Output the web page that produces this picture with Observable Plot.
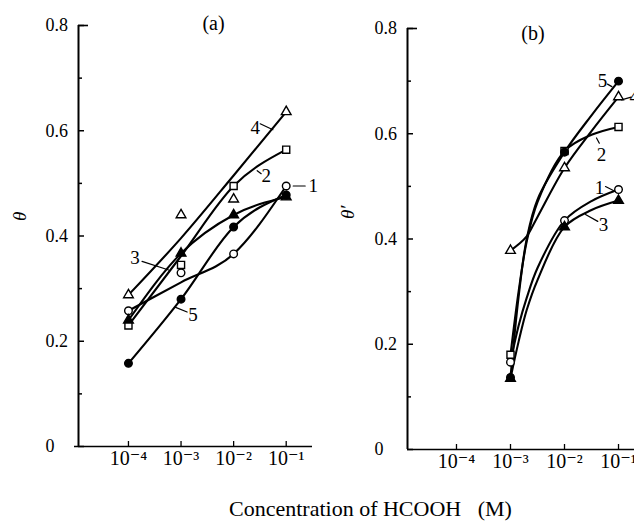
<!DOCTYPE html>
<html><head><meta charset="utf-8">
<script src="https://cdn.jsdelivr.net/npm/d3@7"></script>
<script src="https://cdn.jsdelivr.net/npm/@observablehq/plot@0.6"></script>
<style>
body{margin:0;background:#fff;}
#wrap{position:relative;width:634px;height:522px;overflow:hidden;font-family:"Liberation Serif","DejaVu Serif",serif;color:#000;}
#wrap svg{position:absolute;top:0;}
#xtitle{position:absolute;top:497px;left:229px;font-size:22px;white-space:pre;line-height:24px;}
</style></head><body>
<div id="wrap"><div id="xtitle">Concentration of HCOOH   (M)</div></div>
<script>
// ---------- data ----------
const concA = [1e-4, 1e-3, 1e-2, 1e-1];
// markers, panel (a)
const a1 = [0.258, 0.330, 0.366, 0.495];   // open circle
const a2 = [0.230, 0.345, 0.495, 0.564];   // open square
const a3 = [0.240, 0.367, 0.440, 0.474];   // filled triangle
const a4 = [0.288, 0.440, 0.470, 0.636];   // open triangle
const a5 = [0.158, 0.280, 0.417, 0.478];   // filled circle
// drawn curves, panel (a), read at the decades
const a1Line = [0.258, 0.312, 0.366, 0.495];
const a2Line = [0.230, 0.362, 0.495, 0.564];
const a3Line = [0.240, 0.367, 0.440, 0.474];
const a4Line = [0.288, 0.396, 0.515, 0.636];
const a5Line = [0.158, 0.280, 0.417, 0.478];

const concB = [1e-3, 1e-2, 1e-1];
const b1 = [0.166, 0.435, 0.494];
const b2 = [0.180, 0.567, 0.613];
const b3 = [0.135, 0.423, 0.473];
const b4 = [0.378, 0.535, 0.670];
const b5 = [0.137, 0.565, 0.700];
// drawn curves, panel (b)
const concBLine = [1e-3, 10 ** -2.85, 10 ** -2.7, 10 ** -2.5, 1e-2, 10 ** -1.5, 1e-1];
const b1Line = [0.166, 0.235, 0.288, 0.345, 0.435, 0.472, 0.494];
const b2Line = [0.180, 0.300, 0.395, 0.470, 0.567, 0.598, 0.613];
const b3Line = [0.135, 0.205, 0.265, 0.322, 0.423, 0.455, 0.473];
const b4Line = [0.378, 0.390, 0.405, 0.442, 0.535, 0.605, 0.670];
const b5Line = [0.137, 0.290, 0.400, 0.475, 0.565, 0.635, 0.700];

const yTicks = [0, 0.2, 0.4, 0.6, 0.8];
const yTickLabels = ["0", "0.2", "0.4", "0.6", "0.8"];
const yMinor = [0.1, 0.3, 0.5, 0.7];
const xTicks = [1e-4, 1e-3, 1e-2, 1e-1];
const xTickLabels = ["10\u207B\u2074", "10\u207B\u00B3", "10\u207B\u00B2", "10\u207B\u00B9"];
const seriesNames = ["1", "2", "3", "4", "5"];

// ---------- styles ----------
const FONT = '"Liberation Serif","DejaVu Serif",serif';
const look = {
  "1": {symbol: "circle", fill: "white", r: 3.8},
  "2": {symbol: "square", fill: "white", r: 4},
  "3": {symbol: "triangle", fill: "black", r: 3.6},
  "4": {symbol: "triangle", fill: "white", r: 3.6},
  "5": {symbol: "circle", fill: "black", r: 3.8}
};
const stick = {draw(ctx, l) { ctx.moveTo(0, 0); ctx.lineTo(0, -l); }};

function rows(xs, arrs) {
  return arrs.flatMap((v, k) => v.map((y, i) => ({series: seriesNames[k], c: xs[i], t: y})));
}
const ptsA = rows(concA, [a1, a2, a3, a4, a5]);
const lineA = rows(concA, [a1Line, a2Line, a3Line, a4Line, a5Line]);
const ptsB = rows(concB, [b1, b2, b3, b4, b5]);
const lineB = rows(concBLine, [b1Line, b2Line, b3Line, b4Line, b5Line]);

// label annotations: anchor point + offsets (layout only)
const labelsA = [
  {s: "4", i: 3, tdx: -31, tdy: 16, ldx: -26, ldy: 12, len: 14, ang: 115},
  {s: "2", i: 3, tdx: -20, tdy: 26, ldx: -29, ldy: 21, len: 5, ang: 127},
  {s: "1", i: 3, tdx: 27, tdy: 0, ldx: 7, ldy: 0, len: 12, ang: 90},
  {s: "3", i: 1, tdx: -46, tdy: 5, ldx: -39, ldy: 8, len: 28, ang: 108},
  {s: "5", i: 1, tdx: 12, tdy: 16, ldx: -6, ldy: 8, len: 13, ang: 112}
];
const labelsB = [
  {s: "5", i: 2, tdx: -16, tdy: 0, ldx: -11, ldy: 3, len: 5, ang: 120},
  {s: "4", i: 2, tdx: 11, tdy: 0, ldx: 3, ldy: 3, len: 10, ang: 74, anchor: "start"},
  {s: "2", i: 2, tdx: -17, tdy: 28, ldx: -22, ldy: 11, len: 6, ang: 152},
  {s: "1", i: 2, tdx: -19, tdy: -2, ldx: -13, ldy: -3, len: 11, ang: 117},
  {s: "3", i: 2, tdx: -15, tdy: 24, ldx: -33, ldy: 14, len: 14, ang: 119}
];

const H = 480;
function panel(cfg) {
  const {width, mL, mR, mT, mB, xDomain, pts, lines, curve, conc, arrs, labels, title, tdx, tdy, ytitle, ydx, ydy, axisInsetLeft} = cfg;
  const innerW = width - mL - mR, innerH = H - mT - mB;
  const marks = [
    Plot.line(lines, {x: "c", y: "t", z: "series", curve, stroke: "black", strokeWidth: 2.1}),
    Plot.ruleX([xDomain[0]], {stroke: "black", strokeWidth: 2}),
    Plot.ruleY([0], {stroke: "black", strokeWidth: 1.5, insetLeft: axisInsetLeft}),
    Plot.tickY(yTicks, {y: d => d, stroke: "black", strokeWidth: 1.5, insetRight: innerW - 6}),
    Plot.tickY([0.8], {y: d => d, stroke: "black", strokeWidth: 1.6, insetRight: innerW - 10}),
    Plot.tickY(yMinor, {y: d => d, stroke: "black", strokeWidth: 1.5, insetRight: innerW - 4}),
    Plot.tickX(xTicks, {x: d => d, stroke: "black", strokeWidth: 1.3, insetTop: innerH - 5}),
    Plot.axisY({ticks: yTicks, tickSize: 0, tickPadding: 0, textAnchor: "start", dx: -33, fontSize: 18,
      tickFormat: d => yTickLabels[yTicks.indexOf(d)], label: null, fill: "black", style: "letter-spacing:2px"}),
    Plot.axisX({ticks: xTicks, tickSize: 0, tickPadding: 4, fontSize: 20,
      tickFormat: d => xTickLabels[xTicks.indexOf(d)], label: null, fill: "black"}),
    Plot.text([title], {frameAnchor: "top", dx: tdx, dy: tdy, fontSize: 20, lineAnchor: "middle", fill: "black"}),
    Plot.text([ytitle], {frameAnchor: "left", dx: ydx, dy: ydy, rotate: -90, fontSize: 19, fontStyle: "italic", fill: "black"})
  ];
  for (const s of seriesNames) {
    const L = look[s];
    marks.push(Plot.dot(pts.filter(d => d.series === s), {x: "c", y: "t", symbol: L.symbol, fill: L.fill, stroke: "black", strokeWidth: 1.4, r: L.r}));
  }
  for (const lb of labels) {
    const k = seriesNames.indexOf(lb.s);
    const p = [{c: conc[lb.i], t: arrs[k][lb.i]}];
    marks.push(Plot.vector(p, {x: "c", y: "t", length: lb.len, rotate: lb.ang, anchor: "start", shape: stick, dx: lb.ldx, dy: lb.ldy, stroke: "black", strokeWidth: 1.2}));
    marks.push(Plot.text(p, {x: "c", y: "t", text: () => lb.s, dx: lb.tdx, dy: lb.tdy, fontSize: 19, fill: "black", textAnchor: lb.anchor || "middle"}));
  }
  return Plot.plot({
    width, height: H, marginLeft: mL, marginRight: mR, marginTop: mT, marginBottom: mB,
    style: {fontFamily: FONT, background: "transparent", overflow: "visible", color: "black"},
    x: {type: "log", domain: xDomain, label: null},
    y: {domain: [0, 0.8], label: null},
    marks
  });
}

const wrap = document.getElementById("wrap");
const A = panel({width: 320, mL: 78, mR: 8, mT: 25, mB: 34, xDomain: [10 ** -4.95, 10 ** -0.5],
  pts: ptsA, lines: lineA, curve: "monotone-x", conc: concA, arrs: [a1, a2, a3, a4, a5], labels: labelsA,
  title: "(a)", tdx: 18, tdy: -2, ytitle: "\u03B8", ydx: -59, ydy: -15, axisInsetLeft: -4});
A.style.left = "0px";
wrap.appendChild(A);
const B = panel({width: 314, mL: 87, mR: 0, mT: 28, mB: 31, xDomain: [10 ** -4.907, 10 ** -0.704],
  pts: ptsB, lines: lineB, curve: "catmull-rom", conc: concB, arrs: [b1, b2, b3, b4, b5], labels: labelsB,
  title: "(b)", tdx: 12, tdy: 5, ytitle: "\u03B8\u2032", ydx: -60, ydy: -20, axisInsetLeft: 0});
B.style.left = "320px";
wrap.appendChild(B);
</script></body></html>
